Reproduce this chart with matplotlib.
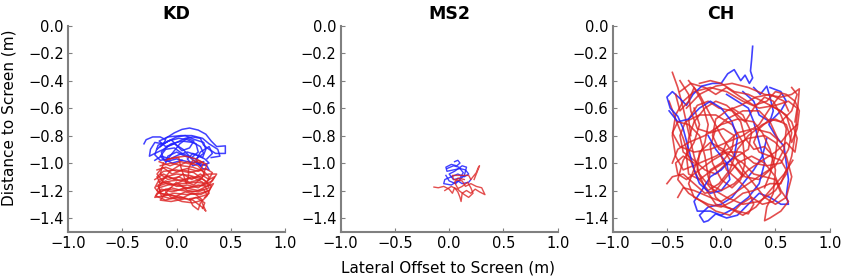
import matplotlib
matplotlib.use("Agg")
import matplotlib.pyplot as plt
from matplotlib.ticker import FuncFormatter

# hand-read trajectories (x = lateral offset, y = distance), one list of points per path
kd_blue = [
    [(-0.30, -0.86), (-0.28, -0.83), (-0.22, -0.81), (-0.15, -0.81), (-0.10, -0.83), (-0.12, -0.86),
     (-0.20, -0.85), (-0.24, -0.90), (-0.25, -0.95), (-0.20, -0.93), (-0.12, -0.90), (-0.05, -0.86),
     (0.05, -0.84), (0.15, -0.85), (0.22, -0.88), (0.25, -0.93), (0.18, -0.97), (0.08, -0.95),
     (0.00, -0.92), (-0.08, -0.95), (-0.10, -1.00)],
    [(-0.10, -0.82), (-0.02, -0.78), (0.05, -0.755), (0.12, -0.745), (0.20, -0.76), (0.27, -0.79),
     (0.32, -0.84), (0.37, -0.88), (0.45, -0.875), (0.45, -0.93), (0.36, -0.93), (0.30, -0.90),
     (0.25, -0.87), (0.22, -0.82), (0.15, -0.81), (0.08, -0.82), (0.00, -0.85), (-0.08, -0.88),
     (-0.14, -0.92), (-0.12, -0.97), (-0.04, -1.00), (0.05, -0.98)],
    [(-0.15, -0.88), (-0.08, -0.84), (0.02, -0.82), (0.10, -0.83), (0.18, -0.86), (0.20, -0.92),
     (0.14, -0.96), (0.05, -0.93), (-0.02, -0.89), (-0.10, -0.90), (-0.15, -0.95), (-0.10, -0.99),
     (0.00, -0.97), (0.10, -0.99), (0.20, -1.00), (0.28, -1.02), (0.30, -1.05), (0.24, -1.04),
     (0.18, -0.98), (0.22, -0.92), (0.30, -0.88), (0.33, -0.93), (0.28, -0.97)],
    [(-0.18, -0.90), (-0.12, -0.86), (-0.05, -0.83), (0.00, -0.87), (0.05, -0.91), (0.12, -0.89),
     (0.16, -0.84), (0.10, -0.82), (0.03, -0.86), (-0.03, -0.92), (-0.08, -0.97), (-0.15, -0.98),
     (-0.20, -0.94), (-0.17, -0.87), (-0.10, -0.85), (0.00, -0.81), (0.08, -0.80), (0.17, -0.83),
     (0.25, -0.85), (0.27, -0.90), (0.24, -0.96), (0.15, -0.93), (0.10, -0.97), (0.15, -1.02),
     (0.25, -0.99)],
    [(-0.20, -0.98), (-0.14, -0.95), (-0.06, -0.97), (0.02, -0.94), (0.10, -0.92), (0.18, -0.94),
     (0.26, -0.97), (0.30, -1.00), (0.22, -1.02), (0.14, -0.97), (0.06, -0.90), (-0.02, -0.86),
     (-0.10, -0.88), (-0.16, -0.84), (-0.08, -0.81), (0.04, -0.80), (0.14, -0.80), (0.24, -0.82),
     (0.30, -0.86), (0.38, -0.90), (0.40, -0.95), (0.32, -0.96)],
]

kd_red = [
    [(-0.10, -0.98), (-0.02, -0.96), (0.08, -0.95), (0.18, -0.97), (0.25, -1.00), (0.22, -1.05),
     (0.12, -1.07), (0.00, -1.05), (-0.12, -1.06), (-0.18, -1.10), (-0.15, -1.15), (-0.05, -1.13),
     (0.08, -1.12), (0.20, -1.10), (0.30, -1.08), (0.37, -1.08), (0.33, -1.13), (0.25, -1.16),
     (0.12, -1.18), (0.00, -1.20), (-0.10, -1.19), (-0.18, -1.22), (-0.20, -1.25), (-0.12, -1.24),
     (-0.02, -1.22), (0.10, -1.23), (0.22, -1.22), (0.30, -1.20)],
    [(-0.15, -1.02), (-0.05, -1.00), (0.05, -1.02), (0.15, -1.03), (0.25, -1.06), (0.30, -1.10),
     (0.28, -1.15), (0.18, -1.14), (0.05, -1.15), (-0.08, -1.16), (-0.16, -1.18), (-0.14, -1.24),
     (-0.05, -1.26), (0.05, -1.25), (0.15, -1.27), (0.20, -1.30), (0.25, -1.33), (0.27, -1.35),
     (0.23, -1.28), (0.28, -1.24), (0.32, -1.17), (0.25, -1.12), (0.12, -1.09), (0.00, -1.08),
     (-0.10, -1.10), (-0.16, -1.14)],
    [(-0.18, -1.05), (-0.10, -1.03), (0.00, -1.06), (0.10, -1.04), (0.20, -1.06), (0.27, -1.04),
     (0.33, -1.07), (0.30, -1.12), (0.20, -1.18), (0.10, -1.16), (0.00, -1.17), (-0.10, -1.13),
     (-0.17, -1.16), (-0.15, -1.21), (-0.05, -1.18), (0.05, -1.20), (0.15, -1.21), (0.25, -1.19),
     (0.28, -1.23), (0.20, -1.25), (0.12, -1.26), (0.15, -1.31), (0.20, -1.34), (0.22, -1.29)],
    [(-0.12, -1.00), (-0.15, -1.08), (-0.08, -1.12), (0.02, -1.10), (0.12, -1.14), (0.22, -1.12),
     (0.26, -1.08), (0.20, -1.02), (0.10, -0.99), (0.02, -1.02), (-0.06, -1.06), (-0.12, -1.12),
     (-0.18, -1.20), (-0.12, -1.23), (0.00, -1.24), (0.08, -1.21), (0.18, -1.23), (0.24, -1.27),
     (0.15, -1.29), (0.05, -1.28), (-0.05, -1.25), (-0.10, -1.21)],
    [(-0.08, -0.97), (0.02, -0.96), (0.04, -1.03), (0.07, -1.10), (0.09, -1.15), (0.11, -1.10),
     (0.11, -1.04), (0.15, -0.98), (0.22, -1.00)],
    [(-0.20, -1.12), (-0.12, -1.08), (-0.02, -1.12), (0.06, -1.08), (0.14, -1.12), (0.22, -1.08),
     (0.30, -1.12), (0.35, -1.10), (0.30, -1.16), (0.20, -1.20), (0.08, -1.18), (-0.04, -1.21),
     (-0.14, -1.19), (-0.19, -1.24), (-0.10, -1.27), (0.02, -1.24), (0.12, -1.27), (0.18, -1.25),
     (0.26, -1.29), (0.24, -1.33)],
    [(-0.16, -0.99), (-0.06, -1.02), (0.04, -0.99), (0.14, -1.01), (0.20, -0.98), (0.28, -1.01),
     (0.24, -1.10), (0.16, -1.16), (0.06, -1.13), (-0.04, -1.16), (-0.12, -1.14), (-0.18, -1.08),
     (-0.13, -1.03), (-0.04, -1.08), (0.06, -1.05), (0.16, -1.07), (0.28, -1.14), (0.30, -1.18),
     (0.20, -1.21), (0.10, -1.20), (0.00, -1.14), (-0.08, -1.20), (-0.15, -1.27), (-0.05, -1.28),
     (0.08, -1.26)],
    [(-0.18, -1.17), (-0.10, -1.15), (0.00, -1.16), (0.10, -1.18), (0.20, -1.16), (0.28, -1.17),
     (0.34, -1.15), (0.30, -1.20), (0.22, -1.23), (0.14, -1.22), (0.04, -1.26), (-0.06, -1.23),
     (-0.16, -1.22), (-0.20, -1.18), (-0.16, -1.12), (-0.08, -1.10), (0.04, -1.13), (0.14, -1.10),
     (0.24, -1.14), (0.30, -1.22), (0.26, -1.25)],
]

ms2_blue = [
    [(0.05, -0.99), (0.08, -0.98), (0.10, -1.00), (0.07, -1.02), (0.02, -1.01), (-0.03, -1.03),
     (-0.02, -1.06), (0.04, -1.05), (0.10, -1.04), (0.15, -1.05), (0.18, -1.08), (0.14, -1.10),
     (0.08, -1.08), (0.02, -1.10), (-0.04, -1.12), (-0.05, -1.15), (0.02, -1.16), (0.08, -1.13),
     (0.12, -1.15), (0.18, -1.14), (0.20, -1.12)],
    [(-0.02, -1.04), (0.04, -1.02), (0.09, -1.03), (0.13, -1.07), (0.10, -1.11), (0.04, -1.12),
     (0.00, -1.08), (0.05, -1.06), (0.12, -1.02), (0.16, -1.03), (0.14, -1.09), (0.06, -1.15),
     (0.00, -1.13), (-0.03, -1.09)],
]

ms2_red = [
    [(-0.14, -1.175), (-0.10, -1.18), (-0.05, -1.17), (0.00, -1.19), (0.03, -1.22), (0.05, -1.18),
     (0.08, -1.21), (0.10, -1.25), (0.11, -1.28), (0.12, -1.22), (0.16, -1.20), (0.20, -1.22),
     (0.24, -1.19), (0.28, -1.21), (0.33, -1.23), (0.30, -1.18), (0.25, -1.17), (0.20, -1.15),
     (0.15, -1.17), (0.12, -1.13), (0.04, -1.12), (0.03, -1.09), (0.10, -1.09), (0.18, -1.09),
     (0.20, -1.12), (0.22, -1.10), (0.25, -1.07), (0.27, -1.03), (0.28, -1.02), (0.26, -1.06),
     (0.23, -1.12)],
    [(-0.04, -1.20), (0.02, -1.17), (0.07, -1.19), (0.12, -1.17), (0.17, -1.14), (0.20, -1.18),
     (0.22, -1.22), (0.18, -1.25), (0.14, -1.23), (0.09, -1.20), (0.05, -1.14), (0.08, -1.11),
     (0.14, -1.12)],
]

ch_blue = [
    [(0.29, -0.15), (0.28, -0.25), (0.27, -0.33), (0.29, -0.38), (0.26, -0.42), (0.22, -0.36),
     (0.18, -0.40), (0.12, -0.32), (0.06, -0.35), (0.00, -0.42), (-0.08, -0.42), (-0.18, -0.44),
     (-0.26, -0.50), (-0.32, -0.58), (-0.38, -0.53), (-0.45, -0.48), (-0.50, -0.52), (-0.47, -0.60),
     (-0.40, -0.66), (-0.35, -0.75), (-0.30, -0.90), (-0.25, -1.05), (-0.20, -1.15), (-0.10, -1.22),
     (0.00, -1.20), (0.08, -1.12), (0.05, -1.00), (-0.05, -0.90), (-0.12, -0.80)],
    [(0.30, -0.45), (0.36, -0.50), (0.42, -0.44), (0.45, -0.52), (0.48, -0.62), (0.44, -0.72),
     (0.50, -0.80), (0.58, -0.88), (0.60, -1.00), (0.62, -1.12), (0.60, -1.24), (0.62, -1.30),
     (0.55, -1.30), (0.45, -1.25), (0.35, -1.22), (0.25, -1.30), (0.15, -1.38), (0.05, -1.40),
     (-0.05, -1.37), (-0.12, -1.42), (-0.16, -1.43), (-0.20, -1.38), (-0.12, -1.32), (0.00, -1.30),
     (0.10, -1.25), (0.20, -1.15), (0.30, -1.05), (0.38, -0.95), (0.42, -0.82)],
    [(-0.48, -0.62), (-0.40, -0.70), (-0.30, -0.68), (-0.20, -0.60), (-0.10, -0.55), (0.00, -0.60),
     (0.10, -0.70), (0.15, -0.82), (0.12, -0.95), (0.00, -1.05), (-0.10, -1.10), (-0.18, -1.20),
     (-0.25, -1.28), (-0.22, -1.35), (-0.10, -1.35), (0.00, -1.38), (0.12, -1.33), (0.25, -1.25),
     (0.35, -1.15), (0.40, -1.00), (0.35, -0.85), (0.30, -0.70), (0.25, -0.60), (0.15, -0.55),
     (0.05, -0.50)],
    [(0.20, -0.48), (0.30, -0.55), (0.35, -0.65), (0.45, -0.70), (0.55, -0.62), (0.60, -0.55),
     (0.55, -0.48), (0.45, -0.45)],
]

ch_red = [
    [(-0.45, -0.34), (-0.40, -0.45), (-0.35, -0.60), (-0.30, -0.78), (-0.25, -0.95), (-0.20, -1.08),
     (-0.10, -1.18), (0.05, -1.25), (0.20, -1.30), (0.35, -1.28), (0.50, -1.20), (0.60, -1.08),
     (0.65, -0.95), (0.68, -0.80), (0.70, -0.65), (0.72, -0.46), (0.65, -0.50), (0.55, -0.52),
     (0.40, -0.50), (0.25, -0.45), (0.10, -0.42), (-0.05, -0.44), (-0.20, -0.50), (-0.32, -0.60)],
    [(-0.50, -1.15), (-0.45, -1.10), (-0.35, -1.08), (-0.25, -1.15), (-0.15, -1.22), (-0.05, -1.20),
     (0.05, -1.10), (0.15, -1.00), (0.28, -0.95), (0.40, -1.00), (0.50, -1.10), (0.55, -1.20),
     (0.62, -1.28), (0.55, -1.35), (0.45, -1.40), (0.40, -1.42), (0.42, -1.32), (0.48, -1.22),
     (0.50, -1.05), (0.45, -0.90), (0.38, -0.78), (0.30, -0.70), (0.15, -0.68), (0.00, -0.72),
     (-0.15, -0.80), (-0.30, -0.85), (-0.40, -0.90), (-0.45, -1.00)],
    [(-0.30, -0.40), (-0.20, -0.50), (-0.10, -0.65), (0.00, -0.80), (0.10, -0.92), (0.20, -1.05),
     (0.30, -1.15), (0.40, -1.25), (0.50, -1.30), (0.60, -1.25), (0.65, -1.10), (0.60, -0.95),
     (0.50, -0.85), (0.40, -0.80), (0.25, -0.82), (0.10, -0.88), (-0.05, -0.95), (-0.20, -1.00),
     (-0.35, -1.05), (-0.42, -0.95), (-0.45, -0.80), (-0.42, -0.65), (-0.35, -0.55), (-0.25, -0.48),
     (-0.10, -0.45), (0.05, -0.48), (0.20, -0.55), (0.35, -0.60), (0.50, -0.58), (0.62, -0.55),
     (0.70, -0.60), (0.68, -0.70)],
    [(0.55, -0.50), (0.45, -0.60), (0.35, -0.72), (0.20, -0.80), (0.05, -0.85), (-0.10, -0.90),
     (-0.25, -0.92), (-0.38, -0.88), (-0.45, -0.78), (-0.40, -0.70), (-0.30, -0.72), (-0.20, -0.80),
     (-0.15, -0.95), (-0.12, -1.10), (-0.05, -1.25), (0.05, -1.32), (0.15, -1.35), (0.25, -1.37),
     (0.30, -1.30), (0.25, -1.20), (0.15, -1.12), (0.05, -1.05), (0.00, -0.95), (0.05, -0.85),
     (0.15, -0.78), (0.30, -0.75), (0.45, -0.78), (0.55, -0.85), (0.62, -0.78), (0.70, -0.72)],
    [(-0.40, -1.25), (-0.35, -1.18), (-0.25, -1.20), (-0.10, -1.25), (0.00, -1.28), (0.12, -1.22),
     (0.25, -1.15), (0.38, -1.08), (0.50, -1.02), (0.58, -0.90), (0.60, -0.75), (0.55, -0.65),
     (0.48, -0.55), (0.40, -0.52), (0.30, -0.60), (0.22, -0.70), (0.15, -0.65), (0.05, -0.58),
     (-0.05, -0.55), (-0.15, -0.60), (-0.25, -0.70), (-0.30, -0.82), (-0.32, -0.95), (-0.30, -1.08),
     (-0.20, -1.12), (-0.08, -1.05), (0.02, -1.00), (0.12, -1.02), (0.20, -1.10)],
    [(-0.42, -0.50), (-0.38, -0.62), (-0.30, -0.55), (-0.25, -0.45), (-0.18, -0.55), (-0.12, -0.72),
     (-0.15, -0.85), (-0.22, -0.98), (-0.30, -1.15), (-0.25, -1.25), (-0.12, -1.30), (0.00, -1.32),
     (0.10, -1.28), (0.20, -1.22), (0.30, -1.20), (0.45, -1.15), (0.55, -1.15), (0.60, -1.05),
     (0.55, -0.98), (0.45, -0.95), (0.35, -0.92), (0.30, -0.85), (0.35, -0.75), (0.45, -0.68),
     (0.55, -0.70), (0.65, -0.62), (0.70, -0.50), (0.65, -0.45)],
    [(0.10, -0.60), (0.20, -0.65), (0.28, -0.78), (0.25, -0.90), (0.15, -0.95), (0.05, -1.00),
     (-0.05, -1.08), (-0.15, -1.05), (-0.25, -0.98), (-0.35, -0.92), (-0.38, -0.80), (-0.33, -0.70),
     (-0.20, -0.65), (-0.05, -0.65), (0.10, -0.72), (0.20, -0.85), (0.22, -1.00), (0.18, -1.12),
     (0.10, -1.18), (0.00, -1.12), (-0.08, -1.00), (-0.10, -0.88), (-0.05, -0.75), (0.05, -0.68),
     (0.20, -0.62), (0.35, -0.62), (0.45, -0.70), (0.52, -0.82), (0.50, -0.95), (0.45, -1.08),
     (0.40, -1.18)],
    [(-0.20, -0.42), (-0.10, -0.40), (0.00, -0.42), (0.12, -0.48), (0.25, -0.50), (0.38, -0.55),
     (0.50, -0.60), (0.60, -0.65), (0.65, -0.78), (0.62, -0.90), (0.55, -1.00), (0.42, -1.02),
     (0.30, -1.00), (0.18, -0.92), (0.05, -0.92), (-0.08, -0.98), (-0.20, -1.05), (-0.32, -1.12),
     (-0.40, -1.08), (-0.42, -1.00), (-0.35, -0.95), (-0.25, -1.00)],
    [(-0.48, -0.55), (-0.42, -0.68), (-0.35, -0.82), (-0.30, -0.95), (-0.22, -1.10), (-0.12, -1.20),
     (-0.02, -1.15), (0.08, -1.05), (0.15, -0.90), (0.25, -0.80), (0.38, -0.72), (0.50, -0.68),
     (0.60, -0.72), (0.65, -0.85), (0.70, -0.75), (0.72, -0.62), (0.68, -0.55), (0.60, -0.50),
     (0.50, -0.48), (0.42, -0.55), (0.30, -0.58), (0.18, -0.52), (0.05, -0.45), (-0.05, -0.50),
     (-0.15, -0.45), (-0.28, -0.42), (-0.38, -0.48)],
    [(-0.25, -0.60), (-0.20, -0.72), (-0.25, -0.85), (-0.35, -0.98), (-0.40, -1.12), (-0.30, -1.22),
     (-0.18, -1.28), (-0.05, -1.35), (0.08, -1.38), (0.18, -1.30), (0.28, -1.25), (0.38, -1.30),
     (0.48, -1.28), (0.55, -1.22), (0.50, -1.12), (0.40, -1.10), (0.30, -1.08), (0.20, -1.00),
     (0.10, -0.95), (-0.02, -0.90), (-0.08, -0.80), (-0.05, -0.68), (0.05, -0.62), (0.18, -0.58),
     (0.32, -0.52), (0.45, -0.50), (0.58, -0.55), (0.62, -0.62)],
    [(0.66, -0.98), (0.58, -1.08), (0.45, -1.20), (0.32, -1.32), (0.20, -1.38), (0.08, -1.33),
     (-0.05, -1.30), (-0.15, -1.18), (-0.22, -1.05), (-0.20, -0.92), (-0.10, -0.85), (0.02, -0.90),
     (0.10, -1.00), (0.22, -1.10), (0.35, -1.12), (0.45, -1.05), (0.48, -0.95), (0.40, -0.88),
     (0.30, -0.90), (0.22, -0.82), (0.18, -0.70), (0.10, -0.62), (-0.02, -0.60), (-0.12, -0.55),
     (-0.22, -0.58), (-0.30, -0.68), (-0.28, -0.80)],
    [(-0.38, -0.40), (-0.30, -0.50), (-0.28, -0.62), (-0.22, -0.75), (-0.10, -0.78), (0.02, -0.75),
     (0.12, -0.80), (0.10, -0.90), (0.00, -1.00), (-0.10, -1.05), (-0.12, -1.15), (0.00, -1.20),
     (0.12, -1.15), (0.25, -1.05), (0.38, -0.98), (0.50, -0.92), (0.60, -0.85), (0.68, -0.92),
     (0.70, -0.82), (0.65, -0.70), (0.55, -0.62), (0.45, -0.58)],
]

# (title, blue paths, red paths, line width, blue drawn over part of the red)
panels = [("KD", kd_blue, kd_red, 1.1, False),
          ("MS2", ms2_blue, ms2_red, 1.0, False),
          ("CH", ch_blue, ch_red, 1.2, True)]

BLUE = "#2020ff"
RED = "#dd2222"

fig = plt.figure(figsize=(8.43, 2.77), dpi=100)
lefts = [0.0807, 0.4041, 0.7268]
fmt = FuncFormatter(lambda v, pos: ("%.1f" % v).replace("-", "\u2212"))

for left, (name, blue, red, lw, mixed) in zip(lefts, panels):
    ax = fig.add_axes([left, 0.1635, 0.2574, 0.7437])
    for i, path in enumerate(blue):
        xs, ys = zip(*path)
        z = 2.5 if (mixed and i % 2 == 0) else 2
        ax.plot(xs, ys, color=BLUE, lw=lw, alpha=0.85, zorder=z)
    for i, path in enumerate(red):
        xs, ys = zip(*path)
        z = 2.2 if (mixed and i % 2 == 0) else 2.8
        ax.plot(xs, ys, color=RED, lw=lw, alpha=0.8, zorder=z)
    ax.set_xlim(-1.0, 1.0)
    ax.set_ylim(-1.5, 0.0)
    ax.set_xticks([-1.0, -0.5, 0.0, 0.5, 1.0])
    ax.set_yticks([0.0, -0.2, -0.4, -0.6, -0.8, -1.0, -1.2, -1.4])
    ax.xaxis.set_major_formatter(fmt)
    ax.yaxis.set_major_formatter(fmt)
    for s in ["top", "right"]:
        ax.spines[s].set_visible(False)
    for s in ["left", "bottom"]:
        ax.spines[s].set_color("#808080")
        ax.spines[s].set_linewidth(1.5)
    ax.tick_params(direction="in", length=3, color="#808080", labelsize=10.5, pad=3)
    ax.set_title(name, fontsize=12.5, fontweight="bold", pad=5)

fig.text(0.532, 0.032, "Lateral Offset to Screen (m)", ha="center", va="center", fontsize=11)
fig.text(0.011, 0.575, "Distance to Screen (m)", ha="center", va="center", rotation=90, fontsize=11)

fig.savefig("out.png", dpi=100)
